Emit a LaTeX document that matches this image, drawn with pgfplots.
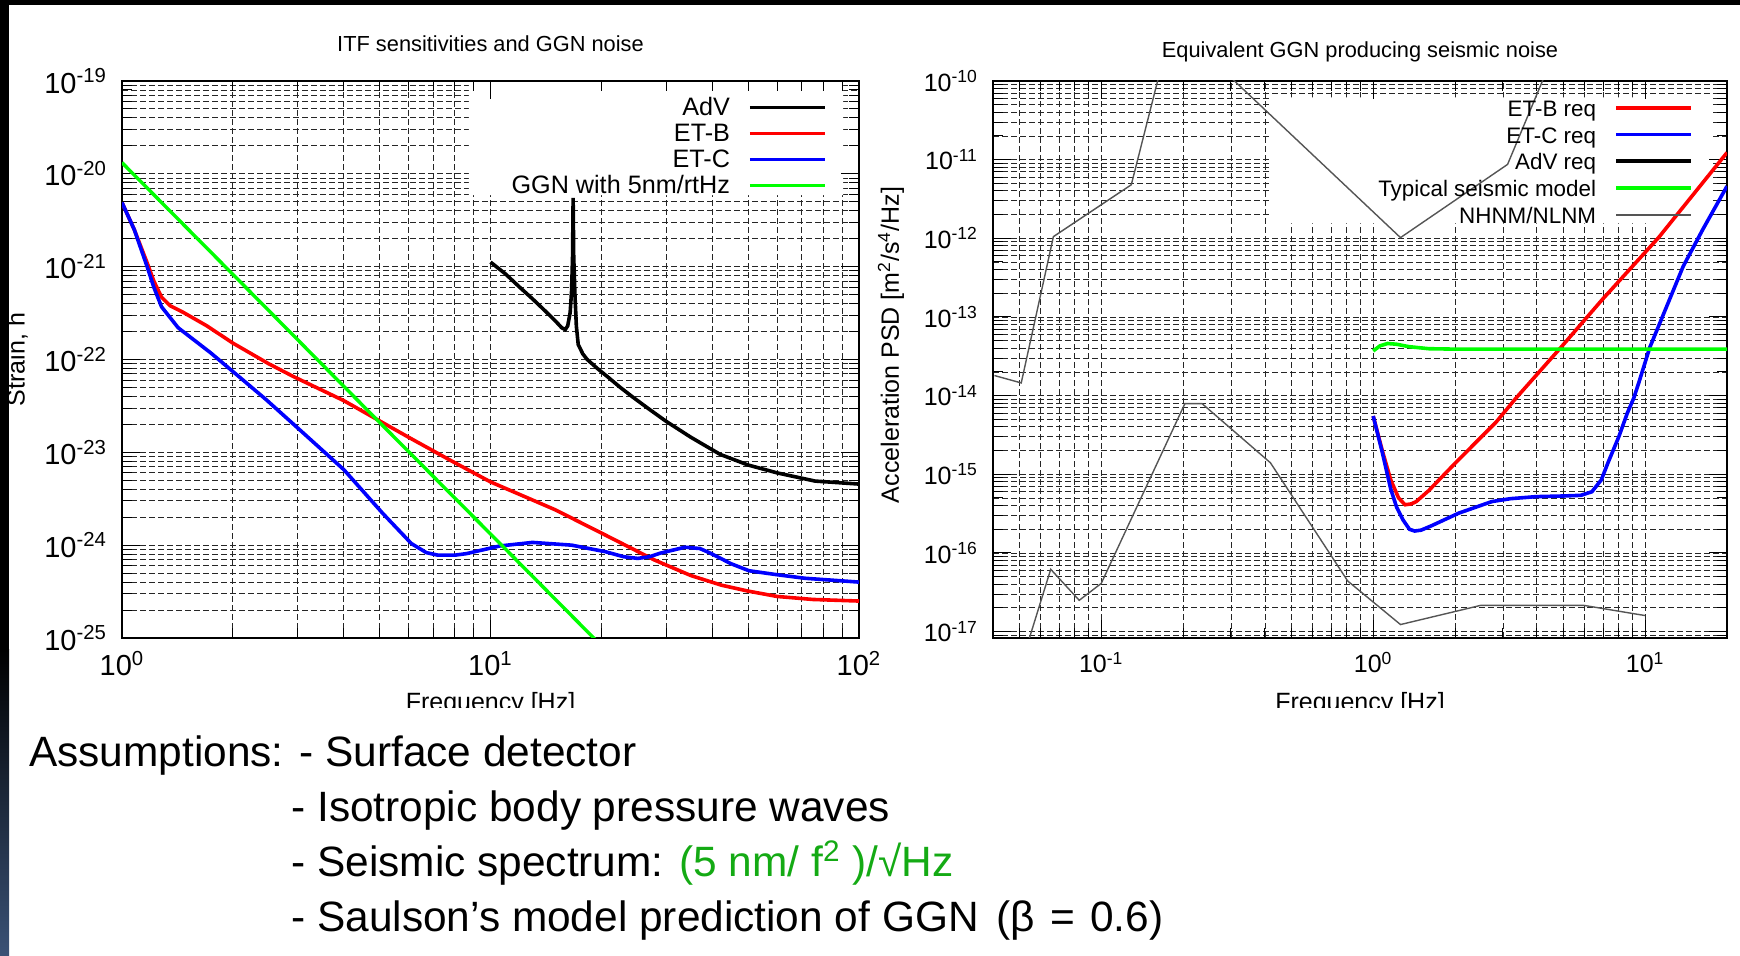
\documentclass[border=0pt]{standalone}
\usepackage{fontspec}
\setmainfont{Liberation Sans}
\usepackage{pgfplots}
\pgfplotsset{compat=1.18}
\newcommand{\tenlabel}{\pgfmathtruncatemacro\ex{round(\tick)}10\textsuperscript{\ex}}
\definecolor{tgreen}{RGB}{20,170,20}
\definecolor{nhnm}{RGB}{85,85,85}
\tikzset{crv/.style={line width=1.8pt}}
\pgfplotsset{
  every axis/.append style={
    set layers,
    log basis x=10, log basis y=10,
    scale only axis,
    grid=both,
    major grid style={black!85, line width=0.45pt, dash pattern=on 2.8pt off 1.7pt},
    minor grid style={black!85, line width=0.45pt, dash pattern=on 2.8pt off 1.7pt},
    axis line style={line width=0.75pt},
    tick style={black, line width=0.5pt},
    major tick length=9pt, minor tick length=5pt,
    tick align=inside,
    xticklabel={\tenlabel}, yticklabel={\tenlabel},
    yticklabel style={xshift=-4pt},
    xticklabel style={yshift=-3pt},
    label style={font=\fontsize{12.5}{14}\selectfont},
    title style={font=\fontsize{10.9}{13}\selectfont, at={(0.5,1)}, anchor=center},
    legend plot pos=right, legend cell align=right,
    legend style={draw=none, fill=none, inner sep=0pt, column sep=9pt,
      at={(1,1)}, anchor=north east, font=\fontsize{11.2}{13}\selectfont,
      nodes={inner sep=0pt, text height=10.8pt, text depth=2.2pt}},
    legend image code/.code={\draw[##1] (0pt,0pt) -- (37.5pt,0pt);},
  },
}
\begin{document}
\begin{tikzpicture}[x=1pt,y=1pt]
\path (0,0) rectangle (870,478);

% ---------------- left plot ----------------
\begin{loglogaxis}[at={(61pt,159pt)}, anchor=south west,
  width=368.5pt, height=278.5pt,
  xmin=1, xmax=100, ymin=1e-25, ymax=1e-19,
  ticklabel style={font=\fontsize{14.5}{16}\selectfont},
  title={ITF sensitivities and GGN noise},
  title style={yshift=12.5pt},
  legend style={xshift=-16pt, yshift=-6.5pt, font=\fontsize{12.6}{13}\selectfont}]
\addplot[on layer=axis grid, fill=white, draw=none, forget plot] coordinates {
(8.74,5.9e-21) (90.5,5.9e-21) (90.5,1e-19) (8.74,1e-19) (8.74,5.9e-21)};
\addplot[crv, black] coordinates {
(10,1.12e-21) (11,8.3e-22) (12,6.0e-22) (13,4.5e-22) (14,3.4e-22) (15,2.6e-22)
(15.6,2.2e-22) (15.95,2.1e-22) (16.2,2.3e-22) (16.45,3.2e-22) (16.6,5.5e-22)
(16.7,1.3e-21) (16.76,5.5e-21) (16.82,1.3e-21) (16.95,5.0e-22) (17.1,2.3e-22)
(17.3,1.45e-22) (17.8,1.15e-22) (18.3,1.0e-22) (19.5,8.0e-23) (20.7,6.6e-23)
(22.5,5.0e-23) (24.4,3.9e-23) (27,2.9e-23) (30,2.15e-23) (35,1.45e-23)
(42,9.5e-24) (50,7.3e-24) (60,6.0e-24) (76,4.9e-24) (100,4.55e-24)};
\addlegendentry{AdV}
\addplot[crv, red] coordinates {
(1,4.9e-21) (1.08,2.5e-21) (1.17,1.1e-21) (1.22,7e-22) (1.28,4.7e-22) (1.35,3.8e-22)
(1.47,3.2e-22) (1.7,2.3e-22) (2.0,1.5e-22) (2.5,9.0e-23) (2.93,6.5e-23) (4.0,3.6e-23)
(4.98,2.2e-23) (6.0,1.45e-23) (7.74,8.3e-24) (10,4.8e-24) (15,2.4e-24) (20,1.35e-24)
(27.9,6.9e-25) (35,4.7e-25) (42.4,3.7e-25) (50,3.2e-25) (60,2.8e-25) (75,2.6e-25) (100,2.5e-25)};
\addlegendentry{ET-B}
\addplot[crv, blue] coordinates {
(1,4.9e-21) (1.08,2.5e-21) (1.17,1.0e-21) (1.22,6.0e-22) (1.28,3.7e-22) (1.42,2.2e-22)
(1.74,1.18e-22) (2.11,6.2e-23) (2.46,3.7e-23) (3.04,1.74e-23) (4.0,6.5e-24) (5.1,2.2e-24)
(6.1,1.04e-24) (6.7,8.3e-25) (7.2,7.8e-25) (8.0,7.8e-25) (8.6,8.1e-25) (10.6,9.8e-25)
(13.0,1.07e-24) (16.6,1.0e-24) (20.5,8.5e-25) (23,7.5e-25) (25.1,7.2e-25) (27,7.5e-25)
(28.9,8.2e-25) (33.7,9.5e-25) (37,9.2e-25) (39.5,8.2e-25) (45,6.3e-25) (50.3,5.3e-25)
(60,4.8e-25) (71.3,4.4e-25) (100,4.0e-25)};
\addlegendentry{ET-C}
\addplot[line width=1.7pt, green] coordinates {(1,1.32e-20) (2,8.25e-22) (5,2.1e-23) (10,1.32e-24) (20,8.25e-26)};
\addlegendentry{GGN with 5nm/rtHz}
\end{loglogaxis}

% ---------------- right plot ----------------
\begin{loglogaxis}[at={(496.5pt,159pt)}, anchor=south west,
  width=367pt, height=278.5pt,
  xmin=0.04, xmax=20, ymin=8.3e-18, ymax=1e-10,
  ticklabel style={font=\fontsize{12.5}{14}\selectfont},
  xticklabel style={yshift=-0.5pt},
  title={Equivalent GGN producing seismic noise},
  title style={yshift=8.5pt},
  ylabel={Acceleration PSD [m\textsuperscript{2}/s\textsuperscript{4}/Hz]},
  ylabel style={at={(axis description cs:-0.139,0.526)}, anchor=center},
  legend style={xshift=-16.75pt, yshift=-6.5pt, nodes={text height=11pt, text depth=2.4pt}}]
\addplot[on layer=axis grid, fill=white, draw=none, forget plot] coordinates {
(0.42,1.55e-12) (17.3,1.55e-12) (17.3,6.2e-11) (0.42,6.2e-11) (0.42,1.55e-12)};
\addplot[crv, red] coordinates {
(1.0,5.5e-15) (1.08,2.0e-15) (1.16,8.5e-16) (1.24,5.0e-16) (1.31,4.1e-16) (1.38,4.2e-16)
(1.44,4.5e-16) (1.6,6.2e-16) (1.95,1.26e-15) (2.4,2.6e-15) (2.83,4.6e-15) (3.35,9.3e-15)
(4.9,4.1e-14) (6.95,1.66e-13) (11.2,1.02e-12) (20,1.23e-11)};
\addlegendentry{ET-B req}
\addplot[crv, blue] coordinates {
(1.0,5.5e-15) (1.08,1.9e-15) (1.16,6.5e-16) (1.22,3.8e-16) (1.29,2.6e-16) (1.36,2.0e-16)
(1.42,1.9e-16) (1.5,1.95e-16) (1.63,2.2e-16) (2.06,3.2e-16) (2.73,4.5e-16) (3.2,4.9e-16)
(3.98,5.2e-16) (5.0,5.3e-16) (5.8,5.4e-16) (6.37,6.0e-16) (6.9,8.5e-16) (7.3,1.4e-15)
(8.0,3.0e-15) (8.6,6.0e-15) (9.08,9.3e-15) (9.5,1.5e-14) (10.4,4.1e-14) (13.8,4.4e-13)
(16.3,1.3e-12) (20,4.6e-12)};
\addlegendentry{ET-C req}
\addlegendimage{line width=2pt, black}
\addlegendentry{AdV req}
\addplot[crv, green] coordinates {
(1.0,3.7e-14) (1.06,4.3e-14) (1.13,4.6e-14) (1.22,4.5e-14) (1.35,4.2e-14) (1.6,3.95e-14)
(2,3.9e-14) (20,3.9e-14)};
\addlegendentry{Typical seismic model}
\addplot[line width=0.7pt, nhnm] coordinates {
(0.0405,1.8e-14) (0.0508,1.45e-14) (0.0667,1.05e-12) (0.129,4.8e-12) (0.159,8.3e-11)
(0.175,3e-10) (0.25,2e-10) (0.309,1e-10) (1.26,1.02e-12) (3.12,8.7e-12) (4.5,1.8e-10)};
\addlegendentry{NHNM/NLNM}
\addplot[line width=0.7pt, nhnm, forget plot] coordinates {
(0.05,3.2e-18) (0.0652,6.2e-17) (0.083,2.5e-17) (0.10,4.1e-17) (0.203,7.9e-15)
(0.235,7.9e-15) (0.419,1.4e-15) (0.806,4.4e-17) (1.26,1.23e-17) (2.49,2.16e-17)
(5.93,2.16e-17) (10,1.6e-17)};
\end{loglogaxis}

% x labels, clipped at the bottom as in the slide
\begin{scope}
\clip (150,124) rectangle (780,145);
\node[anchor=base, inner sep=0pt, font=\fontsize{12.5}{14}\selectfont] at (245.25,122.5) {Frequency [Hz]};
\node[anchor=base, inner sep=0pt, font=\fontsize{12.5}{14}\selectfont] at (680,122.5) {Frequency [Hz]};
\end{scope}
\node[rotate=90, anchor=center, inner sep=0pt, font=\fontsize{12.5}{14}\selectfont] at (8.6,298.25) {Strain, h};

% bottom text
\begin{scope}[every node/.style={anchor=base west, inner sep=0pt, font=\fontsize{21.2}{24}\selectfont}]
\node at (14.4,94.5) {Assumptions: - Surface detector};
\node at (145.5,67.15) {- Isotropic body pressure waves};
\node at (145.5,39.8) {- Seismic spectrum: \textcolor{tgreen}{(5 nm/ f\textsuperscript{2} )/√Hz}};
\node at (145.5,12.45) {- Saulson’s model prediction of GGN\hspace{0.42em}(β\hspace{0.36em}=\hspace{0.36em}0.6)};
\end{scope}

% slide frame
\fill[black] (0,475.5) rectangle (870,478);
\fill[black] (0,153) rectangle (4.5,475.5);
\shade[top color=black, bottom color={rgb,255:red,58;green,82;blue,118}] (0,0) rectangle (4.5,153);
\end{tikzpicture}
\end{document}
